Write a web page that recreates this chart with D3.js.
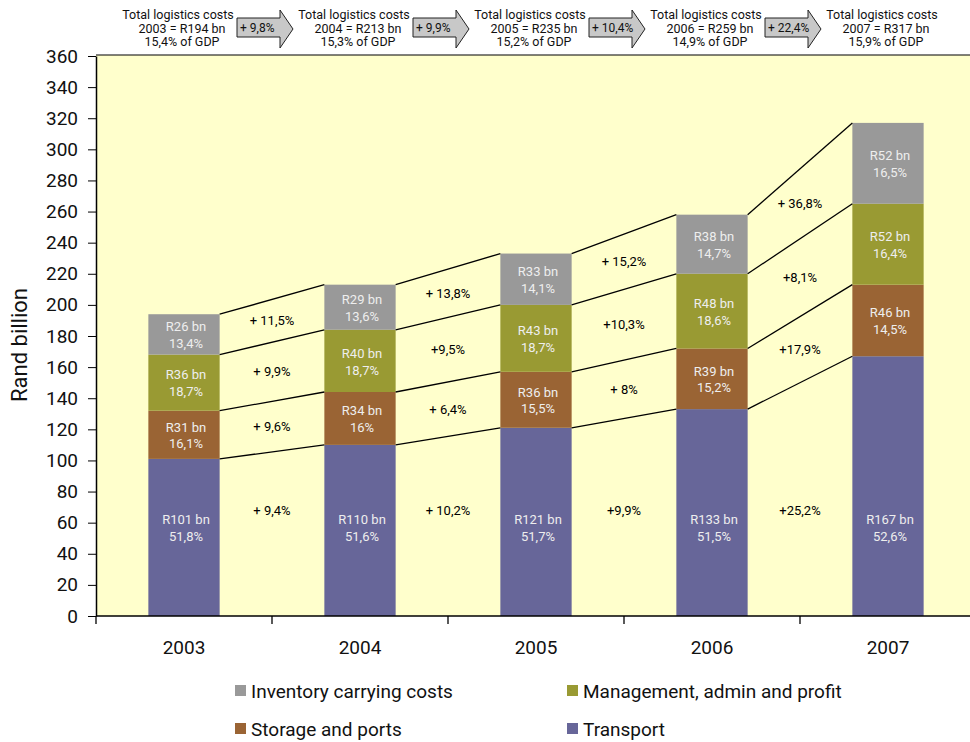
<!doctype html>
<html>
<head>
    <meta charset="utf-8">
    <script src="https://d3js.org/d3.v7.min.js"></script>
    <style>
        body { margin: 0; background: #fff; }
        text { font-family: 'Roboto', sans-serif; }
    </style>
</head>
<body>
    <div id="chart"></div>
    <script>
        // data
        var years = ["2003", "2004", "2005", "2006", "2007"];
        var transport = [101, 110, 121, 133, 167];
        var storage = [31, 34, 36, 39, 46];
        var management = [36, 40, 43, 48, 52];
        var inventory = [26, 29, 33, 38, 52];

        var transportPct = ["51,8%", "51,6%", "51,7%", "51,5%", "52,6%"];
        var storagePct = ["16,1%", "16%", "15,5%", "15,2%", "14,5%"];
        var managementPct = ["18,7%", "18,7%", "18,7%", "18,6%", "16,4%"];
        var inventoryPct = ["13,4%", "13,6%", "14,1%", "14,7%", "16,5%"];

        // growth between years, per series
        var transportGrowth = ["+ 9,4%", "+ 10,2%", "+9,9%", "+25,2%"];
        var storageGrowth = ["+ 9,6%", "+ 6,4%", "+ 8%", "+17,9%"];
        var managementGrowth = ["+ 9,9%", "+9,5%", "+10,3%", "+8,1%"];
        var inventoryGrowth = ["+ 11,5%", "+ 13,8%", "+ 15,2%", "+ 36,8%"];

        // header boxes
        var totalCosts = ["R194", "R213", "R235", "R259", "R317"];
        var gdpShare = ["15,4%", "15,3%", "15,2%", "14,9%", "15,9%"];
        var totalGrowth = ["+ 9,8%", "+ 9,9%", "+ 10,4%", "+ 22,4%"];

        var yTicks = d3.range(0, 361, 20);

        var series = [
            { name: "Transport", values: transport, pct: transportPct, growth: transportGrowth, color: "#676699" },
            { name: "Storage and ports", values: storage, pct: storagePct, growth: storageGrowth, color: "#9a6434" },
            { name: "Management, admin and profit", values: management, pct: managementPct, growth: managementGrowth, color: "#999a33" },
            { name: "Inventory carrying costs", values: inventory, pct: inventoryPct, growth: inventoryGrowth, color: "#999999" }
        ];

        var width = 970, height = 742;
        var svg = d3.select("#chart").append("svg")
            .attr("width", width)
            .attr("height", height);

        var plotLeft = 96, plotTop = 55, plotBottom = 616;

        var x = d3.scaleBand().domain(years).range([plotLeft, plotLeft + 880]).padding(0);
        var y = d3.scaleLinear().domain([0, 360]).range([plotBottom, 56]);
        var barW = x.bandwidth() * 0.405;

        // stack the series
        var stacked = years.map(function (yr, i) {
            var base = 0;
            return series.map(function (s) {
                var d = { year: yr, i: i, s: s, y0: base, y1: base + s.values[i] };
                base += s.values[i];
                return d;
            });
        });

        // plot background
        svg.append("rect")
            .attr("x", plotLeft).attr("y", plotTop)
            .attr("width", width - plotLeft).attr("height", plotBottom - plotTop)
            .attr("fill", "#ffffcc");
        svg.append("line")
            .attr("x1", plotLeft).attr("x2", width)
            .attr("y1", plotTop).attr("y2", plotTop)
            .attr("stroke", "#000").attr("stroke-width", 1.2);

        // bars
        var barG = svg.append("g");
        stacked.forEach(function (col) {
            col.forEach(function (d) {
                var cx = x(d.year) + x.bandwidth() / 2;
                barG.append("rect")
                    .attr("x", cx - barW / 2)
                    .attr("y", y(d.y1))
                    .attr("width", barW)
                    .attr("height", y(d.y0) - y(d.y1))
                    .attr("fill", d.s.color);

                // label in the bar, transport labels sit lower
                var mid = d.s.name == "Transport" ? 57 : (d.y0 + d.y1) / 2;
                var t = barG.append("text")
                    .attr("x", cx + 2)
                    .attr("y", y(mid))
                    .attr("text-anchor", "middle")
                    .attr("fill", "#eeeeee")
                    .style("font-size", "13px");
                t.append("tspan").attr("x", cx + 2).attr("dy", "-0.25em").text("R" + d.s.values[d.i] + " bn");
                t.append("tspan").attr("x", cx + 2).attr("dy", "1.3em").text(d.s.pct[d.i]);
            });
        });

        // connecting lines and growth labels between bars
        var linkG = svg.append("g");
        for (var i = 0; i < years.length - 1; i++) {
            var xa = x(years[i]) + x.bandwidth() / 2 + barW / 2;
            var xb = x(years[i + 1]) + x.bandwidth() / 2 - barW / 2;
            var xm = x(years[i + 1]);
            stacked[i].forEach(function (d, k) {
                var n = stacked[i + 1][k];
                linkG.append("line")
                    .attr("x1", xa).attr("y1", y(d.y1))
                    .attr("x2", xb).attr("y2", y(n.y1))
                    .attr("stroke", "#000").attr("stroke-width", 1.3);
                var mid = d.s.name == "Transport" ? 68 : ((d.y0 + d.y1) / 2 + (n.y0 + n.y1) / 2) / 2;
                linkG.append("text")
                    .attr("x", xm)
                    .attr("y", y(mid))
                    .attr("dy", "0.35em")
                    .attr("text-anchor", "middle")
                    .attr("fill", "#000")
                    .style("font-size", "13px")
                    .text(d.s.growth[i]);
            });
        }

        // y axis
        var yAxis = svg.append("g")
            .attr("transform", "translate(" + plotLeft + ",0)")
            .call(d3.axisLeft(y).tickValues(yTicks).tickSize(8).tickPadding(10).tickSizeOuter(0));
        yAxis.select(".domain").attr("stroke", "#000").attr("stroke-width", 1.5);
        yAxis.selectAll("text").style("font-size", "19px").attr("fill", "#111");

        // x axis, ticks between categories
        svg.append("line")
            .attr("x1", plotLeft).attr("x2", width)
            .attr("y1", plotBottom).attr("y2", plotBottom)
            .attr("stroke", "#000").attr("stroke-width", 1.5);
        svg.append("g").selectAll("line")
            .data(years)
            .enter().append("line")
            .attr("x1", function (d) { return x(d); })
            .attr("x2", function (d) { return x(d); })
            .attr("y1", plotBottom).attr("y2", plotBottom + 8)
            .attr("stroke", "#000").attr("stroke-width", 1.3);
        svg.append("g").selectAll("text")
            .data(years)
            .enter().append("text")
            .attr("x", function (d) { return x(d) + x.bandwidth() / 2; })
            .attr("y", 654)
            .attr("text-anchor", "middle")
            .attr("fill", "#111")
            .style("font-size", "19px")
            .text(function (d) { return d; });

        // y axis title
        svg.append("text")
            .attr("transform", "translate(27,345) rotate(-90)")
            .attr("text-anchor", "middle")
            .attr("fill", "#111")
            .style("font-size", "22px")
            .text("Rand billion");

        // header: totals per year
        var head = svg.append("g");
        years.forEach(function (yr, i) {
            var cx = x(yr) + x.bandwidth() / 2 - 6;
            var lines = ["Total logistics costs", yr + " = " + totalCosts[i] + " bn", gdpShare[i] + "  of GDP"];
            lines.forEach(function (l, j) {
                head.append("text")
                    .attr("x", cx + (j > 0 ? 4 : 0))
                    .attr("y", 19 + j * 13.5)
                    .attr("text-anchor", "middle")
                    .attr("fill", "#111")
                    .style("font-size", "12.5px")
                    .text(l);
            });
        });

        // header arrows
        totalGrowth.forEach(function (g, i) {
            var bx = x(years[i + 1]);
            var l = bx - 35, h = bx + 8, tip = bx + 21;
            var pts = [[l, 18], [h, 18], [h, 10], [tip, 29], [h, 48], [h, 37], [l, 37]];
            head.append("path")
                .attr("d", d3.line()(pts) + "Z")
                .attr("fill", "#c8c8c8")
                .attr("stroke", "#222")
                .attr("stroke-width", 1);
            head.append("text")
                .attr("x", l + 3)
                .attr("y", 32)
                .attr("fill", "#111")
                .style("font-size", "12px")
                .text(g);
        });

        // legend
        var legendItems = [series[3], series[2], series[1], series[0]];
        var legend = svg.append("g");
        legendItems.forEach(function (s, i) {
            var lx = i % 2 == 0 ? 235 : 567;
            var ly = i < 2 ? 691 : 729;
            legend.append("rect")
                .attr("x", lx).attr("y", ly - 6)
                .attr("width", 11).attr("height", 11)
                .attr("fill", s.color);
            legend.append("text")
                .attr("x", lx + 16)
                .attr("y", ly)
                .attr("dy", "0.35em")
                .attr("fill", "#111")
                .style("font-size", "19px")
                .text(s.name);
        });
    </script>
</body>
</html>
